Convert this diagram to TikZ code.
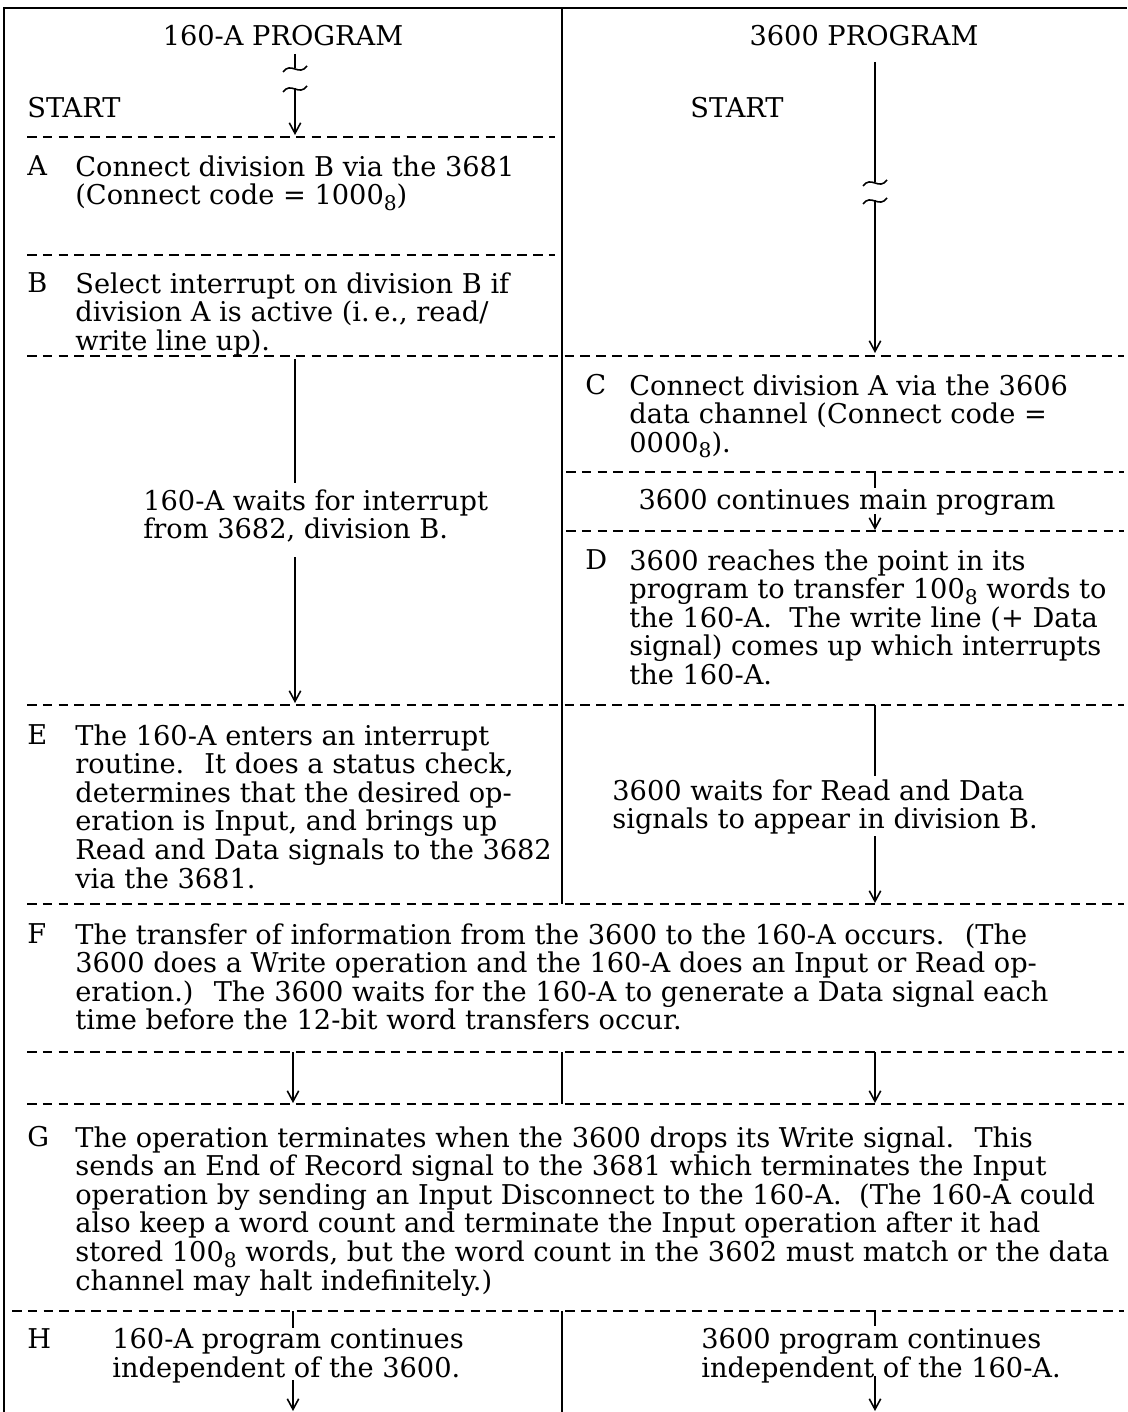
\documentclass[tikz,border=0pt]{standalone}
\usepackage{fontspec}
\setmainfont{DejaVu Serif}
\usepackage{tikz}
\usetikzlibrary{arrows.meta, positioning}
\newcommand{\oct}{\smash{\raisebox{-0.4ex}{\fontsize{11.5}{11.5}\selectfont 8}}}

\begin{document}
\begin{tikzpicture}[x=0.02cm, y=-0.02cm, >={Straight Barb[length=6pt,width=6.5pt,line width=0.9pt]},
    txt/.style={inner sep=0pt, anchor=north west, align=left, font=\fontsize{15.5}{16.3}\selectfont, execute at begin node=\strut},
    sep/.style={dash pattern=on 5.5pt off 3.5pt, line width=0.8pt},
    flow/.style={line width=0.9pt},
    brk/.style={line width=0.9pt}]
    \useasboundingbox (0,0) rectangle (1127,1412);

    % frame and column line
    \draw[line width=1.2pt] (4,1412) -- (4,8) -- (1127,8);
    \draw[line width=1.1pt] (562,8) -- (562,904);
    \draw[line width=1.1pt] (562,1311) -- (562,1412);

    % separators
    \draw[sep] (27,137) -- (555,137);
    \draw[sep] (27,255) -- (555,255);
    \draw[sep] (27,356) -- (1124,356);
    \draw[sep] (566,472) -- (1124,472);
    \draw[sep] (566,531) -- (1124,531);
    \draw[sep] (27,705) -- (1124,705);
    \draw[sep] (27,904) -- (1124,904);
    \draw[sep] (27,1052) -- (1124,1052);
    \draw[sep] (27,1104) -- (1124,1104);
    \draw[sep] (12,1311) -- (1124,1311);

    % headings
    \node[txt, anchor=center] (hdrL) at (283,40) {160-A PROGRAM};
    \node[txt, anchor=center] (hdrR) at (864,40) {3600 PROGRAM};
    \node[txt, anchor=west] (startL) at (27,112) {START};
    \node[txt, anchor=center] (startR) at (737,112) {START};

    % steps, left column
    \node[txt] (la) at (27,155) {A};
    \node[txt] (stepA) at (75,155) {Connect division B via the 3681\\(Connect code = 1000\oct)};
    \node[txt] (lb) at (27,272) {B};
    \node[txt] (stepB) at (75,272) {Select interrupt on division B if\\division A is active (i.\,e., read/\\write line up).};
    \node[txt] (waitL) at (143,489) {160-A waits for interrupt\\from 3682, division B.};
    \node[txt] (le) at (27,724) {E};
    \node[txt] (stepE) at (75,724) {The 160-A enters an interrupt\\routine.~ It does a status check,\\determines that the desired op-\\eration is Input, and brings up\\Read and Data signals to the 3682\\via the 3681.};

    % steps, right column
    \node[txt] (lc) at (585,374) {C};
    \node[txt] (stepC) at (629,374) {Connect division A via the 3606\\data channel (Connect code =\\0000\oct).};
    \node[txt, anchor=center] (mainR) at (847,504) {3600 continues main program};
    \node[txt] (ld) at (585,549) {D};
    \node[txt] (stepD) at (629,549) {3600 reaches the point in its\\program to transfer 100\oct{} words to\\the 160-A.~ The write line (+ Data\\signal) comes up which interrupts\\the 160-A.};
    \node[txt] (waitR) at (612,779) {3600 waits for Read and Data\\signals to appear in division B.};

    % full width steps
    \node[txt] (lf) at (27,923) {F};
    \node[txt] (stepF) at (75,923) {The transfer of information from the 3600 to the 160-A occurs.~ (The\\3600 does a Write operation and the 160-A does an Input or Read op-\\eration.)~ The 3600 waits for the 160-A to generate a Data signal each\\time before the 12-bit word transfers occur.};
    \node[txt] (lg) at (27,1126) {G};
    \node[txt] (stepG) at (75,1126) {The operation terminates when the 3600 drops its Write signal.~ This\\sends an End of Record signal to the 3681 which terminates the Input\\operation by sending an Input Disconnect to the 160-A.~ (The 160-A could\\also keep a word count and terminate the Input operation after it had\\stored 100\oct{} words, but the word count in the 3602 must match or the data\\channel may halt indefinitely.)};
    \node[txt] (lh) at (27,1328) {H};
    \node[txt] (contL) at (112,1328) {160-A program continues\\independent of the 3600.};
    \node[txt] (contR) at (701,1328) {3600 program continues\\independent of the 160-A.};

    % flow points
    \coordinate (l0) at (295,54);  \coordinate (l1) at (295,68);
    \coordinate (l2) at (295,88);  \coordinate (l3) at (295,135);
    \coordinate (r0) at (875,62);  \coordinate (r1) at (875,182);
    \coordinate (r2) at (875,200); \coordinate (r3) at (875,353);
    \coordinate (wa) at (295,359); \coordinate (wb) at (295,483);
    \coordinate (wc) at (295,557); \coordinate (wd) at (295,703);
    \coordinate (ca) at (875,472); \coordinate (cb) at (875,488);
    \coordinate (cc) at (875,514); \coordinate (cd) at (875,530);
    \coordinate (ea) at (875,705); \coordinate (eb) at (875,776);
    \coordinate (ec) at (875,836); \coordinate (ed) at (875,903);
    \coordinate (fa) at (293,1052); \coordinate (fb) at (293,1103);
    \coordinate (fm) at (562,1052); \coordinate (fn) at (562,1104);
    \coordinate (fc) at (875,1052); \coordinate (fd) at (875,1103);
    \coordinate (ha) at (293,1311); \coordinate (hb) at (293,1328);
    \coordinate (hc) at (293,1380); \coordinate (hd) at (293,1411);
    \coordinate (hra) at (875,1311); \coordinate (hrb) at (875,1326);
    \coordinate (hrc) at (875,1376); \coordinate (hrd) at (875,1411);

    % broken lines at the start
    \draw[flow] (l0) -- (l1);
    \draw[brk] (l1) ++(-12,4) .. controls +(8,-11) and +(-8,11) .. ++(24,-6);
    \draw[brk] (l2) ++(-12,4) .. controls +(8,-11) and +(-8,11) .. ++(24,-6);
    \draw[flow, ->] (l2) -- (l3);
    \draw[flow] (r0) -- (r1);
    \draw[brk] (r1) ++(-12,4) .. controls +(8,-11) and +(-8,11) .. ++(24,-6);
    \draw[brk] (r2) ++(-12,4) .. controls +(8,-11) and +(-8,11) .. ++(24,-6);
    \draw[flow, ->] (r2) -- (r3);

    % the other flow lines
    \draw[flow] (wa) -- (wb);
    \draw[flow, ->] (wc) -- (wd);
    \draw[flow] (ca) -- (cb);
    \draw[flow, ->] (cc) -- (cd);
    \draw[flow] (ea) -- (eb);
    \draw[flow, ->] (ec) -- (ed);
    \draw[flow, ->] (fa) -- (fb);
    \draw[flow] (fm) -- (fn);
    \draw[flow, ->] (fc) -- (fd);
    \draw[flow] (ha) -- (hb);
    \draw[flow, ->] (hc) -- (hd);
    \draw[flow] (hra) -- (hrb);
    \draw[flow, ->] (hrc) -- (hrd);
\end{tikzpicture}
\end{document}
